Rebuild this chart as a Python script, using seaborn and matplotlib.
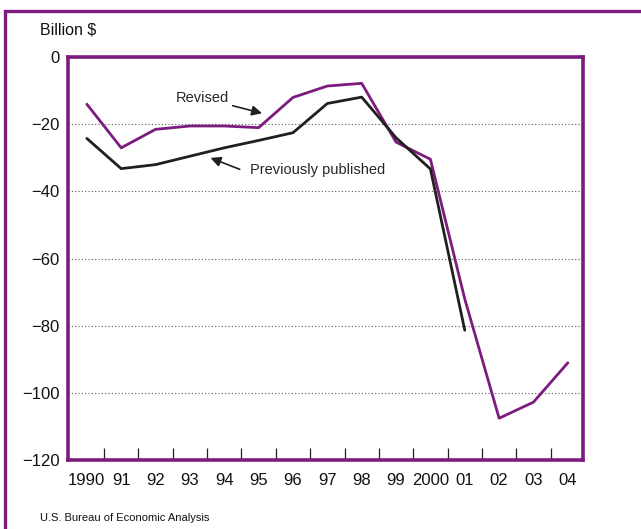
import matplotlib
matplotlib.use("Agg")
import matplotlib.pyplot as plt
from matplotlib.patches import Rectangle
import seaborn as sns
import pandas as pd

PURPLE = "#7b1c7e"
BLACK = "#231f20"

years = list(range(1990, 2005))
year_labels = ["1990", "91", "92", "93", "94", "95", "96", "97", "98", "99",
               "2000", "01", "02", "03", "04"]

revised = [-14, -27, -21.5, -20.5, -20.5, -21, -12, -8.6, -7.8, -25.3,
           -30.4, -72, -107.5, -102.7, -91]
prev_years = list(range(1990, 2002))
previously_published = [-24.2, -33.2, -32, -29.5, -27, -24.8, -22.5, -13.8,
                        -11.9, -24, -33.3, -81.3]

df = pd.concat([
    pd.DataFrame({"year": years, "value": revised, "series": "Revised"}),
    pd.DataFrame({"year": prev_years, "value": previously_published,
                  "series": "Previously published"}),
])

sns.set_theme(style="white")
plt.rcParams["font.family"] = ["Liberation Sans", "DejaVu Sans"]

fig = plt.figure(figsize=(6.41, 5.29), dpi=100)
ax = fig.add_axes([0.106, 0.130, 0.804, 0.762])

sns.lineplot(data=df, x="year", y="value", hue="series",
             palette={"Revised": PURPLE, "Previously published": BLACK},
             linewidth=2.0, legend=False, ax=ax)

ax.set_xlim(1989.45, 2004.45)
ax.set_ylim(-120, 0)

# dotted gridlines
for y in range(-100, 0, 20):
    ax.axhline(y, color="#555555", lw=0.8, ls=(0, (1, 2)), zorder=0)

ax.set_yticks(range(-120, 1, 20))
ax.set_yticklabels(["\u2212120", "\u2212100", "\u221280", "\u221260", "\u221240", "\u221220", "0"])
ax.tick_params(axis="y", length=0, pad=6, labelsize=12, colors="#111111")

# year boundaries as inward ticks, labels at year centres
ax.set_xticks([y + 0.5 for y in years[:-1]])
ax.set_xticklabels([])
ax.tick_params(axis="x", which="major", direction="in", length=9, width=0.9,
               color="#222222", bottom=True)
ax.set_xticks(years, minor=True)
ax.set_xticklabels(year_labels, minor=True)
ax.tick_params(axis="x", which="minor", length=0, pad=9, labelsize=12,
               colors="#111111")

ax.set_xlabel("")
ax.set_ylabel("")

for s in ax.spines.values():
    s.set_color(PURPLE)
    s.set_linewidth(2.6)

ax.annotate("Revised", xy=(1995.1, -16.7), xytext=(1992.6, -12.2),
            fontsize=10.5, va="center", ha="left",
            arrowprops=dict(arrowstyle="-|>", color=BLACK, lw=1.2,
                            mutation_scale=15, shrinkA=40, shrinkB=0))
ax.annotate("", xy=(1993.6, -30), xytext=(1994.45, -33.4),
            arrowprops=dict(arrowstyle="-|>", color=BLACK, lw=1.2,
                            mutation_scale=15, shrinkA=0, shrinkB=0))
ax.text(1994.75, -33.6, "Previously published", fontsize=10.5,
        va="center", ha="left")

fig.text(40 / 641, 1 - 30 / 529, "Billion $", fontsize=11.5, va="center",
         ha="left", color="#111111")
fig.text(40 / 641, 1 - 518 / 529, "U.S. Bureau of Economic Analysis",
         fontsize=8, va="center", ha="left", color="#111111")

# outer purple frame (runs off the right and bottom edge)
fig.patches.append(Rectangle((5 / 641, -0.1), 1.2, 1 - 11 / 529 + 0.1,
                             transform=fig.transFigure, fill=False,
                             edgecolor=PURPLE, lw=2.4))

fig.savefig("out.png", dpi=100)
